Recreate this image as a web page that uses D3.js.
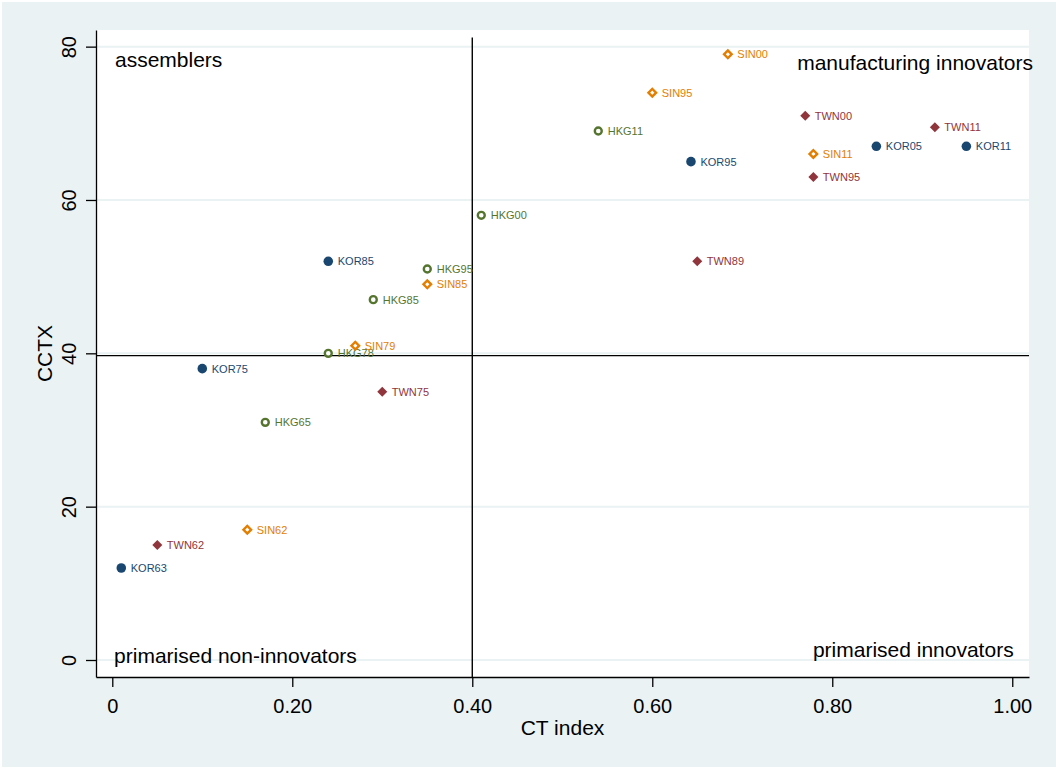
<!DOCTYPE html>
<html>
<head>
<meta charset="utf-8">
<script src="https://cdn.jsdelivr.net/npm/d3@7"></script>
<style>
  html, body { margin: 0; padding: 0; background: #ffffff; }
  svg { display: block; }
  text { font-family: "Liberation Sans", Arial, Helvetica, sans-serif; }
</style>
</head>
<body>
<svg id="chart" width="1056" height="771"></svg>
<script>
// Economies, one small set of arrays per series (CT index vs CCTX)
const korLabels = ["KOR63", "KOR75", "KOR85", "KOR95", "KOR05", "KOR11"];
const korCT     = [0.01, 0.10, 0.24, 0.643, 0.849, 0.949];
const korCCTX   = [12, 38, 52, 65, 67, 67];

const hkgLabels = ["HKG65", "HKG78", "HKG85", "HKG95", "HKG00", "HKG11"];
const hkgCT     = [0.17, 0.24, 0.29, 0.35, 0.41, 0.54];
const hkgCCTX   = [31, 40, 47, 51, 58, 69];

const sinLabels = ["SIN62", "SIN79", "SIN85", "SIN95", "SIN00", "SIN11"];
const sinCT     = [0.15, 0.27, 0.35, 0.60, 0.684, 0.779];
const sinCCTX   = [17, 41, 49, 74, 79, 66];

const twnLabels = ["TWN62", "TWN75", "TWN89", "TWN95", "TWN00", "TWN11"];
const twnCT     = [0.05, 0.30, 0.65, 0.779, 0.77, 0.914];
const twnCCTX   = [15, 35, 52, 63, 71, 69.5];

// Axis ticks
const xTicks      = [0, 0.2, 0.4, 0.6, 0.8, 1.0];
const xTickLabels = ["0", "0.20", "0.40", "0.60", "0.80", "1.00"];
const yTicks      = [0, 20, 40, 60, 80];
const yTickLabels = ["0", "20", "40", "60", "80"];

// Quadrant dividers
const ctCut   = 0.40;
const cctxCut = 39.7;
const ctCutTop = 81.2;

// Quadrant names
const quadNames = ["assemblers", "manufacturing innovators", "primarised non-innovators", "primarised innovators"];
const quadCT    = [0.003, 0.892, 0.002, 0.89];
const quadCCTX  = [77.4, 76.9, -0.35, 0.35];
const quadAlign = ["start", "middle", "start", "middle"];

// ---------------------------------------------------------------
const W = 1056, H = 771;
const plot = { left: 96, top: 30, right: 1029, bottom: 677 };

const svg = d3.select("#chart");

// graph region
svg.append("rect").attr("x", 0).attr("y", 0).attr("width", W).attr("height", H).attr("fill", "#ffffff");
svg.append("rect").attr("x", 2).attr("y", 2).attr("width", W - 2).attr("height", H - 6).attr("fill", "#eaf2f3");
// plot region
svg.append("rect")
  .attr("x", plot.left).attr("y", plot.top)
  .attr("width", plot.right - plot.left).attr("height", plot.bottom - plot.top)
  .attr("fill", "#ffffff");

const x = d3.scaleLinear().domain([-0.0181, 1.0186]).range([plot.left, plot.right]);
const y = d3.scaleLinear().domain([-2.217, 82.17]).range([plot.bottom, plot.top]);

// horizontal gridlines
svg.append("g").selectAll("line").data(yTicks).join("line")
  .attr("x1", plot.left).attr("x2", plot.right)
  .attr("y1", d => y(d)).attr("y2", d => y(d))
  .attr("stroke", "#eaf2f3").attr("stroke-width", 2);

// y axis
const yAxis = svg.append("g")
  .attr("transform", `translate(${plot.left},0)`)
  .call(d3.axisLeft(y).tickValues(yTicks).tickFormat((d, i) => yTickLabels[i]).tickSize(10).tickSizeOuter(0));
yAxis.select(".domain").attr("stroke", "#000").attr("stroke-width", 1.3);
yAxis.selectAll(".tick line").attr("stroke", "#000").attr("stroke-width", 1.3);
yAxis.selectAll(".tick text")
  .attr("transform", "rotate(-90)")
  .attr("x", 0).attr("y", -20).attr("dy", 0)
  .attr("text-anchor", "middle")
  .attr("font-size", 20).attr("fill", "#000")
  .style("font-family", "'Liberation Sans', Arial, sans-serif");

// x axis
const xAxis = svg.append("g")
  .attr("transform", `translate(0,${plot.bottom})`)
  .call(d3.axisBottom(x).tickValues(xTicks).tickFormat((d, i) => xTickLabels[i]).tickSize(10).tickSizeOuter(0));
xAxis.select(".domain").attr("stroke", "#000").attr("stroke-width", 1.3);
xAxis.selectAll(".tick line").attr("stroke", "#000").attr("stroke-width", 1.3);
xAxis.selectAll(".tick text")
  .attr("y", 36).attr("dy", 0)
  .attr("font-size", 20).attr("fill", "#000")
  .style("font-family", "'Liberation Sans', Arial, sans-serif");

// axis titles
svg.append("text")
  .attr("x", (plot.left + plot.right) / 2).attr("y", 735)
  .attr("text-anchor", "middle").attr("font-size", 21).attr("fill", "#000")
  .text("CT index");
svg.append("text")
  .attr("transform", `translate(51.5,${(plot.top + plot.bottom) / 2}) rotate(-90)`)
  .attr("text-anchor", "middle").attr("font-size", 21).attr("fill", "#000")
  .text("CCTX");

// quadrant dividers
svg.append("line")
  .attr("x1", x(ctCut)).attr("x2", x(ctCut))
  .attr("y1", y(ctCutTop)).attr("y2", plot.bottom)
  .attr("stroke", "#000").attr("stroke-width", 1.4);
svg.append("line")
  .attr("x1", plot.left).attr("x2", plot.right)
  .attr("y1", y(cctxCut)).attr("y2", y(cctxCut))
  .attr("stroke", "#000").attr("stroke-width", 1.4);

// quadrant names
svg.append("g").selectAll("text").data(quadNames).join("text")
  .attr("x", (d, i) => x(quadCT[i]))
  .attr("y", (d, i) => y(quadCCTX[i]))
  .attr("text-anchor", (d, i) => quadAlign[i])
  .attr("font-size", 21).attr("fill", "#000")
  .text(d => d);

// series
const series = [
  { labels: korLabels, ct: korCT, cctx: korCCTX, color: "#1a476f", shape: "circle",  filled: true },
  { labels: hkgLabels, ct: hkgCT, cctx: hkgCCTX, color: "#55752f", shape: "circle",  filled: false },
  { labels: sinLabels, ct: sinCT, cctx: sinCCTX, color: "#e37e00", shape: "diamond", filled: false },
  { labels: twnLabels, ct: twnCT, cctx: twnCCTX, color: "#90353b", shape: "diamond", filled: true }
];

const marks = svg.append("g");
series.forEach(s => {
  const pts = s.labels.map((lab, i) => ({ lab, ct: s.ct[i], cctx: s.cctx[i] }));
  const g = marks.append("g");
  let sym;
  if (s.shape === "circle") {
    sym = d3.symbol().type(d3.symbolCircle).size(s.filled ? 72 : 38);
  } else {
    sym = d3.symbol().type(d3.symbolSquare).size(s.filled ? 50 : 29);
  }
  g.selectAll("path").data(pts).join("path")
    .attr("d", sym)
    .attr("transform", d => `translate(${x(d.ct)},${y(d.cctx)})` + (s.shape === "diamond" ? " rotate(45)" : ""))
    .attr("fill", s.filled ? s.color : "#ffffff")
    .attr("stroke", s.filled ? "none" : s.color)
    .attr("stroke-width", s.filled ? 0 : 2.4);
  g.selectAll("text").data(pts).join("text")
    .attr("x", d => x(d.ct) + 9.5)
    .attr("y", d => y(d.cctx) + 4)
    .attr("font-size", 11)
    .attr("fill", s.color)
    .text(d => d.lab);
});
</script>
</body>
</html>
